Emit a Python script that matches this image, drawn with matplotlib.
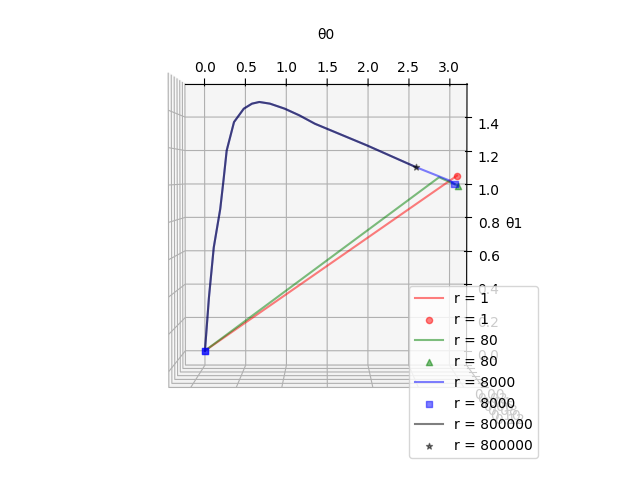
import numpy as np
import matplotlib
matplotlib.use("Agg")
import matplotlib.pyplot as plt

labels = ["r = 1", "r = 80", "r = 8000", "r = 800000"]
colors = ["red", "green", "blue", "black"]
markers = ["o", "^", "s", "*"]

x_r1 = [0.0, 3.09]
y_r1 = [0.0, 1.05]
x_r80 = [0.0, 2.87, 3.10]
y_r80 = [0.0, 1.04, 0.99]
x_r8000 = [0.0, 0.05, 0.11, 0.19, 0.23, 0.27, 0.36, 0.48, 0.58, 0.67, 0.80, 0.98, 1.16, 1.35, 1.99, 2.59, 3.0, 3.06]
y_r8000 = [0.0, 0.32, 0.62, 0.85, 1.02, 1.20, 1.37, 1.45, 1.48, 1.49, 1.48, 1.45, 1.41, 1.36, 1.23, 1.10, 1.02, 1.0]
x_r800000 = [0.0, 0.05, 0.11, 0.19, 0.23, 0.27, 0.36, 0.48, 0.58, 0.67, 0.80, 0.98, 1.16, 1.35, 1.99, 2.59]
y_r800000 = [0.0, 0.32, 0.62, 0.85, 1.02, 1.20, 1.37, 1.45, 1.48, 1.49, 1.48, 1.45, 1.41, 1.36, 1.23, 1.10]
yticks = [0.0, 0.2, 0.4, 0.6, 0.8, 1.0, 1.2, 1.4]

xs = [x_r1, x_r80, x_r8000, x_r800000]
ys = [y_r1, y_r80, y_r8000, y_r800000]

fig = plt.figure(figsize=(6.4, 4.8), dpi=100)
ax = fig.add_subplot(111, projection="3d")
ax.set_position([0.114, 0.131, 0.775, 0.77])
for x, y, c, m, lab in zip(xs, ys, colors, markers, labels):
    x = np.array(x); y = np.array(y)
    ax.plot(x, y, np.zeros_like(x), color=c, alpha=0.5, label=lab)
    if c == "blue":
        px, py = [x[0], x[0], x[-1]], [y[0], y[0], y[-1]]
    else:
        px, py = [x[-1]], [y[-1]]
    ax.scatter(px, py, np.zeros(len(px)), color=c, marker=m, alpha=0.5, label=lab)
ax.set_xlabel("θ0")
ax.set_ylabel("θ1")
ax.set_xlim(-0.24, 3.21)
ax.set_ylim(-0.086, 1.60)
ax.set_zlim(0.0, 0.12)
ax.set_yticks(yticks)
ax.view_init(elev=91.5, azim=-90)
ax.set_box_aspect(None, zoom=1.25)
ax.legend(loc="lower right", bbox_to_anchor=(545 / 640, 1 - 465 / 480), bbox_transform=fig.transFigure)
fig.savefig("out.png")
